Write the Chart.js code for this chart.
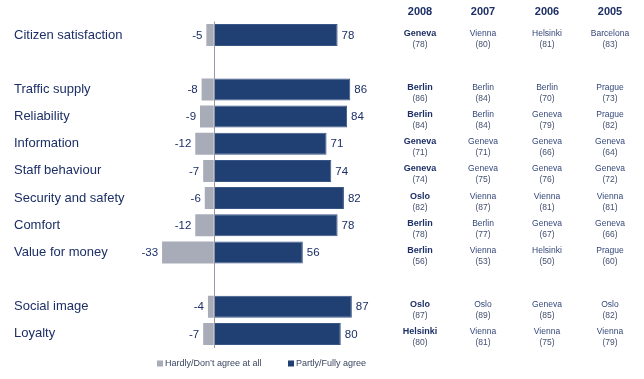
<!DOCTYPE html>
<html>
<head>
<meta charset="utf-8">
<script src="https://cdn.jsdelivr.net/npm/chart.js@4.4.1/dist/chart.umd.min.js"></script>
<style>
  html, body { margin: 0; padding: 0; background: #ffffff; }
  #wrap { position: relative; width: 644px; height: 379px; overflow: hidden; font-family: "Liberation Sans", Arial, sans-serif; }
  #c { position: absolute; left: 0; top: 0; }
  .t { position: absolute; transform: translate(-50%, -50%); white-space: nowrap; line-height: 1; }
  .hdr { font-size: 11px; font-weight: bold; color: #1c2f66; }
  .city08 { font-size: 9px; font-weight: bold; color: #1c2f66; }
  .city { font-size: 8.5px; color: #34477a; }
  .score { font-size: 8.5px; color: #44506e; }
  .lg { position: absolute; top: 363px; transform: translateY(-50%); display: flex; align-items: center; font-size: 9px; color: #3a4560; white-space: nowrap; line-height: 1; }
  .lg i { display: inline-block; width: 6px; height: 6px; margin-right: 2px; }
</style>
</head>
<body>
<div id="wrap">
  <canvas id="c" width="644" height="379"></canvas>
</div>
<script>
// ---- data ----
const categories = ['Citizen satisfaction', '', 'Traffic supply', 'Reliability', 'Information',
  'Staff behaviour', 'Security and safety', 'Comfort', 'Value for money', '', 'Social image', 'Loyalty'];
const disagree = [-5, null, -8, -9, -12, -7, -6, -12, -33, null, -4, -7];
const agree = [78, null, 86, 84, 71, 74, 82, 78, 56, null, 87, 80];
const seriesNames = ['Hardly/Don\u2019t agree at all', 'Partly/Fully agree'];

const years = ['2008', '2007', '2006', '2005'];
const bestCity2008 = ['Geneva', '', 'Berlin', 'Berlin', 'Geneva', 'Geneva', 'Oslo', 'Berlin', 'Berlin', '', 'Oslo', 'Helsinki'];
const bestScore2008 = [78, null, 86, 84, 71, 74, 82, 78, 56, null, 87, 80];
const bestCity2007 = ['Vienna', '', 'Berlin', 'Berlin', 'Geneva', 'Geneva', 'Vienna', 'Berlin', 'Vienna', '', 'Oslo', 'Vienna'];
const bestScore2007 = [80, null, 84, 84, 71, 75, 87, 77, 53, null, 89, 81];
const bestCity2006 = ['Helsinki', '', 'Berlin', 'Geneva', 'Geneva', 'Geneva', 'Vienna', 'Geneva', 'Helsinki', '', 'Geneva', 'Vienna'];
const bestScore2006 = [81, null, 70, 79, 66, 76, 81, 67, 50, null, 85, 75];
const bestCity2005 = ['Barcelona', '', 'Prague', 'Prague', 'Geneva', 'Geneva', 'Vienna', 'Geneva', 'Prague', '', 'Oslo', 'Vienna'];
const bestScore2005 = [83, null, 73, 82, 64, 72, 81, 66, 60, null, 82, 79];

// ---- styles ----
const NAVY = '#203f72';
const GREY = '#a8acb8';
const TEXT = '#1c2f66';
const FONT = '"Liberation Sans", Arial, sans-serif';

const valueLabels = {
  id: 'valueLabels',
  afterDatasetsDraw(chart) {
    const ctx = chart.ctx;
    ctx.save();
    ctx.font = '11.5px ' + FONT;
    ctx.fillStyle = TEXT;
    ctx.textBaseline = 'middle';
    chart.data.datasets.forEach((ds, di) => {
      const meta = chart.getDatasetMeta(di);
      meta.data.forEach((el, i) => {
        const v = ds.data[i];
        if (v === null || v === undefined) return;
        if (v < 0) {
          ctx.textAlign = 'right';
          ctx.fillText(String(v), el.x - 4, el.y + 0.5);
        } else {
          ctx.textAlign = 'left';
          ctx.fillText(String(v), el.x + 4, el.y + 0.5);
        }
      });
    });
    ctx.restore();
  }
};

const chart = new Chart(document.getElementById('c'), {
  type: 'bar',
  data: {
    labels: categories,
    datasets: [
      { label: seriesNames[0], data: disagree, backgroundColor: GREY, borderWidth: 0 },
      { label: seriesNames[1], data: agree, backgroundColor: NAVY, borderColor: '#3a5687', borderWidth: 1, borderSkipped: 'start' }
    ]
  },
  options: {
    indexAxis: 'y',
    responsive: false,
    animation: false,
    devicePixelRatio: 1,
    layout: { padding: { left: 14, right: 134, top: 21.5, bottom: 31.5 } },
    datasets: { bar: { barPercentage: 0.81, categoryPercentage: 1 } },
    scales: {
      x: {
        stacked: true,
        min: -40,
        max: 187,
        ticks: { display: false, stepSize: 20 },
        border: { display: false },
        grid: {
          drawTicks: false,
          lineWidth: 1,
          color: (c) => (c.tick && c.tick.value === 0 ? '#959aa6' : 'rgba(0,0,0,0)')
        }
      },
      y: {
        stacked: true,
        grid: { display: false },
        border: { display: false },
        ticks: { crossAlign: 'far', color: TEXT, font: { family: FONT, size: 13 }, padding: 0 },
        afterFit: (scale) => { scale.width = 137; }
      }
    },
    plugins: {
      legend: { display: false },
      tooltip: { enabled: false }
    }
  },
  plugins: [valueLabels]
});

const wrap = document.getElementById('wrap');

// ---- legend (from the chart's datasets) ----
const legendX = [157, 288];
chart.data.datasets.forEach((ds, i) => {
  const d = document.createElement('div');
  d.className = 'lg';
  d.style.left = legendX[i] + 'px';
  const sw = document.createElement('i');
  sw.style.background = ds.backgroundColor;
  d.appendChild(sw);
  d.appendChild(document.createTextNode(ds.label));
  wrap.appendChild(d);
});

// ---- table of best cities (positioned on the chart's own rows) ----
const colX = [420, 483, 547, 610];
const tableCities = [bestCity2008, bestCity2007, bestCity2006, bestCity2005];
const tableScores = [bestScore2008, bestScore2007, bestScore2006, bestScore2005];
function addText(txt, cls, x, y) {
  const d = document.createElement('div');
  d.className = 't ' + cls;
  d.textContent = txt;
  d.style.left = x + 'px';
  d.style.top = y + 'px';
  wrap.appendChild(d);
}
years.forEach((yr, c) => addText(yr, 'hdr', colX[c], 11));
const yScale = chart.scales.y;
categories.forEach((cat, i) => {
  const yc = yScale.getPixelForTick(i);
  tableCities.forEach((cities, c) => {
    if (!cities[i]) return;
    addText(cities[i], c === 0 ? 'city08' : 'city', colX[c], yc - 2.5);
    addText('(' + tableScores[c][i] + ')', 'score', colX[c], yc + 8.5);
  });
});
</script>
</body>
</html>
